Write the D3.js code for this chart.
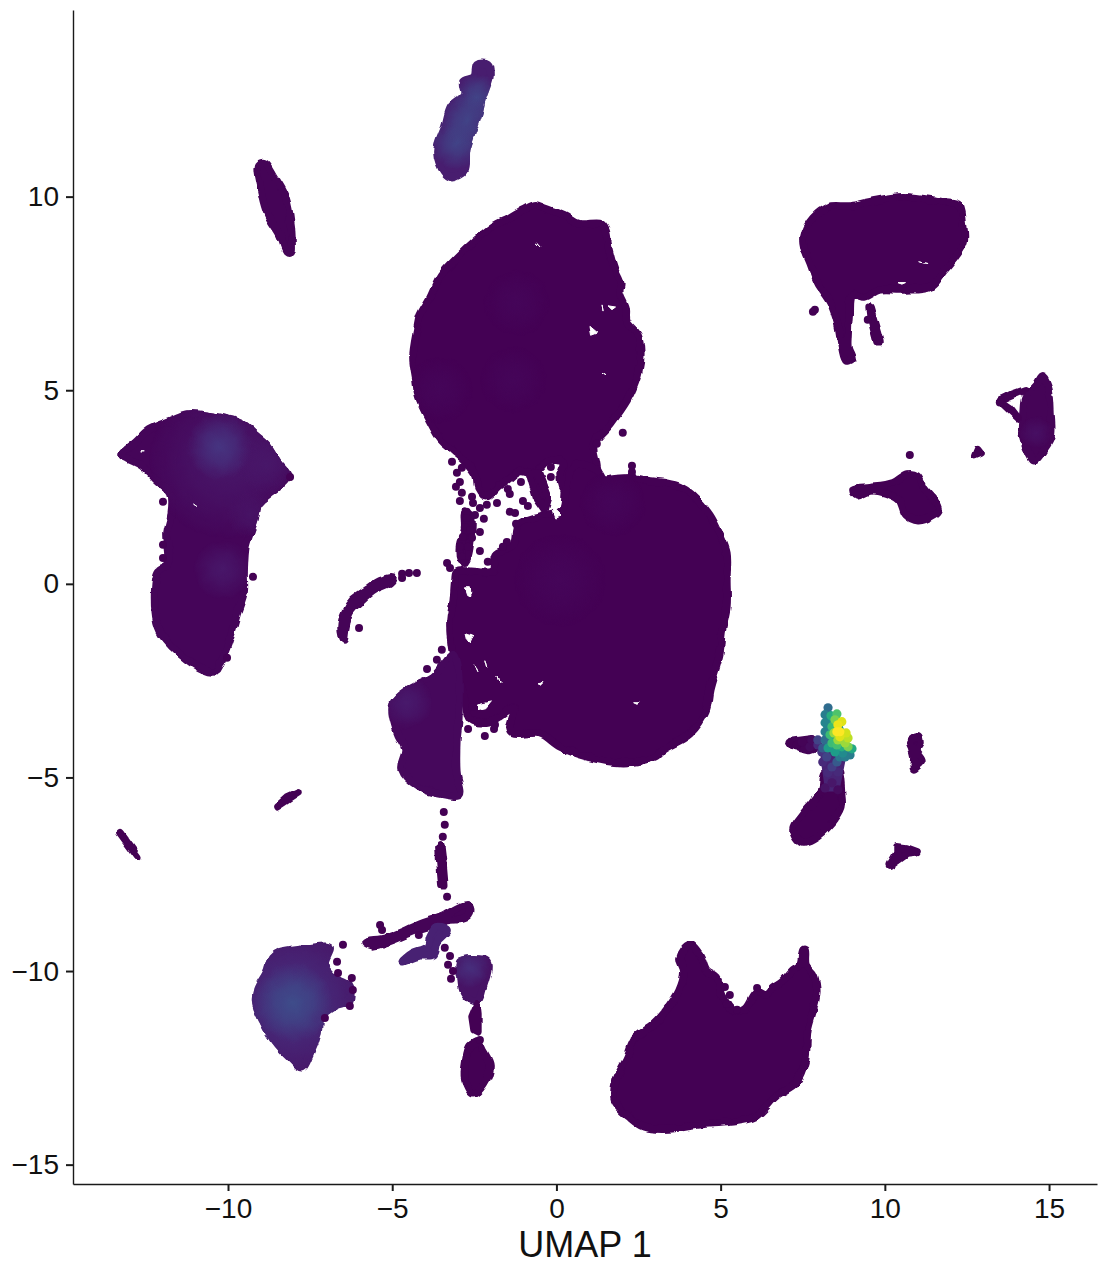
<!DOCTYPE html>
<html>
<head>
<meta charset="utf-8">
<script src="https://cdn.jsdelivr.net/npm/d3@7"></script>
<style>
body { margin: 0; background: #fff; }
text { font-family: "Liberation Sans", Arial, sans-serif; }
</style>
</head>
<body>
<div id="chart"></div>
<script>
const width = 1098;
const height = 1265;

// cluster outlines, in UMAP units
const upperBlob = [[-0.65,9.79],[-0.32,9.69],[0.26,9.51],[0.69,9.30],[1.36,9.30],[1.51,9.12],[1.60,8.63],[1.78,8.11],[1.96,7.75],[1.93,7.54],[2.12,7.13],[2.15,6.77],[2.48,6.43],[2.57,5.97],[2.51,5.50],[2.33,5.04],[2.15,4.73],[1.66,4.13],[1.14,3.59],[1.23,3.07],[1.23,2.69],[0.26,2.43],[0.11,2.82],[0.20,3.15],[-0.20,3.20],[-0.65,2.87],[-1.11,2.92],[-1.48,2.69],[-1.78,2.51],[-2.12,2.25],[-2.39,2.48],[-2.45,2.79],[-2.76,3.15],[-3.15,3.44],[-3.52,3.72],[-3.91,4.29],[-4.19,4.80],[-4.28,5.27],[-4.37,5.86],[-4.25,6.56],[-4.16,6.92],[-3.85,7.39],[-3.52,7.96],[-2.97,8.47],[-2.48,8.86],[-1.90,9.25],[-1.48,9.43],[-1.02,9.66]];
const lowerBlob = [[1.23,2.94],[1.45,2.69],[1.72,2.71],[2.30,2.74],[2.85,2.66],[3.30,2.61],[3.76,2.51],[4.13,2.30],[4.67,1.78],[4.98,1.27],[5.19,0.80],[5.19,0.10],[5.19,-0.59],[5.04,-1.24],[4.98,-1.78],[4.67,-2.74],[4.55,-3.28],[4.07,-3.87],[3.24,-4.29],[3.00,-4.47],[2.02,-4.62],[0.93,-4.47],[0.11,-4.21],[-0.50,-3.87],[-1.32,-3.87],[-1.42,-3.72],[-1.29,-3.20],[-2.02,-3.56],[-2.63,-3.51],[-2.79,-3.00],[-2.88,-2.74],[-3.18,-1.70],[-3.24,-0.93],[-3.15,-0.49],[-3.09,0.10],[-3.03,0.31],[-1.93,0.34],[-1.87,0.75],[-1.32,1.01],[-1.17,1.52],[-0.50,1.76],[0.17,1.91],[0.29,2.43],[0.56,3.07]];
const blobBridge = [[-0.81,2.82],[-0.55,2.85],[-0.25,2.20],[-0.35,1.90],[-0.60,2.20]];
const leftBand = [[-2.78,1.85],[-2.60,1.75],[-2.60,1.20],[-2.75,0.60],[-2.90,0.60],[-2.95,1.00],[-2.80,1.40]];
const shoulderBlob = [[-3.12,-1.83],[-3.79,-2.40],[-4.40,-2.66],[-4.98,-3.10],[-4.86,-3.82],[-4.61,-4.29],[-4.73,-4.78],[-4.19,-5.24],[-3.40,-5.45],[-2.94,-5.45],[-3.03,-4.88],[-3.03,-4.03],[-2.97,-3.44]];
const mushroom = [[-13.23,3.33],[-12.80,3.67],[-12.41,3.98],[-11.68,4.24],[-11.22,4.39],[-10.55,4.34],[-9.58,4.13],[-9.21,3.87],[-8.82,3.59],[-8.45,3.10],[-8.18,2.79],[-8.42,2.53],[-8.75,2.32],[-9.06,2.09],[-9.15,1.76],[-9.30,1.37],[-9.45,0.98],[-9.51,0.28],[-9.51,-0.21],[-9.70,-0.72],[-9.88,-1.24],[-10.09,-1.76],[-10.40,-2.27],[-10.79,-2.20],[-11.25,-1.96],[-11.68,-1.65],[-12.07,-1.24],[-12.22,-0.72],[-12.13,0.31],[-11.86,0.46],[-11.80,0.72],[-11.86,1.32],[-11.74,1.76],[-11.74,2.32],[-12.16,2.66],[-12.59,3.02],[-13.05,3.23]];
const arc = [[-4.98,0.15],[-5.37,0.08],[-5.77,-0.15],[-6.20,-0.41],[-6.44,-0.72],[-6.56,-1.11],[-6.47,-1.45],[-6.41,-1.14],[-6.29,-0.75],[-5.92,-0.41],[-5.53,-0.15],[-5.07,0.03]];
const topRight = [[7.51,8.96],[7.81,9.45],[8.30,9.74],[8.94,9.76],[9.55,9.87],[10.55,10.00],[11.77,9.87],[12.26,9.79],[12.38,9.35],[12.41,8.81],[12.16,8.45],[11.80,8.08],[11.40,7.67],[10.55,7.59],[9.85,7.59],[9.39,7.41],[9.00,7.46],[8.91,6.87],[8.88,6.43],[8.88,6.10],[9.00,5.81],[8.82,5.76],[8.69,6.10],[8.57,6.69],[8.33,7.28],[7.96,7.77],[7.72,8.29],[7.54,8.68]];
const topRightTail = [[9.55,7.15],[9.85,6.25],[9.76,6.25],[9.60,6.77]];
const farRight = [[14.78,5.35],[14.99,5.04],[15.06,4.37],[15.06,3.80],[14.84,3.46],[14.54,3.18],[14.39,3.36],[14.17,3.95],[14.21,4.44],[14.27,4.80],[14.60,5.14]];
const farRightUpper = [[13.50,4.73],[13.93,4.91],[14.27,5.01]];
const farRightLower = [[13.50,4.73],[13.81,4.55],[14.05,4.29]];
const tinyRight = [[12.83,3.49],[12.74,3.31],[12.93,3.38]];
const midRight = [[9.03,2.43],[9.15,2.27],[9.55,2.40],[10.00,2.35],[10.43,2.17],[10.64,1.78],[11.01,1.63],[11.50,1.78],[11.65,1.91],[11.50,2.17],[11.19,2.48],[10.98,2.79],[10.70,2.84],[10.25,2.61],[9.55,2.51],[9.18,2.48]];
const topSliver = [[-2.09,13.41],[-2.02,13.15],[-2.27,12.50],[-2.36,12.17],[-2.73,11.21],[-2.79,10.69],[-3.18,10.49],[-3.43,10.64],[-3.64,11.16],[-3.40,11.80],[-3.21,12.32],[-2.82,12.63],[-2.85,12.97],[-2.51,13.10],[-2.42,13.41]];
const leftSliver = [[-9.09,10.82],[-8.88,10.87],[-8.57,10.49],[-8.27,10.05],[-8.12,9.53],[-8.05,8.89],[-8.08,8.55],[-8.21,8.58],[-8.42,9.01],[-8.79,9.53],[-8.97,10.05]];
const farLeftStreak = [[-13.29,-6.43],[-13.02,-6.74],[-12.75,-7.05]];
const smallStreak = [[-8.51,-5.76],[-8.21,-5.53],[-7.87,-5.40]];
const lowerLeft = [[-8.11,-9.45],[-7.60,-9.40],[-6.90,-9.40],[-7.05,-9.84],[-6.75,-10.18],[-6.35,-10.36],[-6.29,-10.75],[-6.75,-10.90],[-7.20,-11.21],[-7.26,-11.60],[-7.51,-12.17],[-7.75,-12.50],[-8.15,-12.22],[-8.60,-11.80],[-8.94,-11.29],[-9.15,-10.85],[-9.12,-10.49],[-8.82,-10.02],[-8.66,-9.63],[-8.45,-9.51]];
const longStrand = [[-5.83,-9.25],[-5.16,-9.14],[-4.55,-8.94],[-4.07,-8.76],[-3.46,-8.58],[-2.94,-8.34],[-2.69,-8.29],[-2.61,-8.45],[-2.79,-8.63],[-3.33,-8.70],[-3.94,-8.86],[-4.46,-9.01],[-5.07,-9.22],[-5.59,-9.35]];
const verticalStrand = [[-3.52,-6.74],[-3.46,-7.18],[-3.40,-7.77],[-3.49,-7.77],[-3.55,-7.18],[-3.58,-6.83]];
const branch = [[-3.33,-8.94],[-3.64,-8.86],[-3.85,-9.12],[-3.94,-9.38],[-4.37,-9.53],[-4.70,-9.76],[-4.16,-9.61],[-3.76,-9.58],[-3.64,-9.25]];
const triangle = [[-2.94,-9.76],[-2.12,-9.74],[-2.09,-9.97],[-2.24,-10.44],[-2.39,-10.77],[-2.63,-10.75],[-2.85,-10.49],[-2.91,-10.13]];
const triangleTail = [[-2.42,-10.87],[-2.57,-11.18],[-2.51,-11.52],[-2.39,-11.57],[-2.39,-11.11]];
const bottomOval = [[-2.39,-11.83],[-2.63,-11.93],[-2.76,-12.30],[-2.79,-12.81],[-2.54,-13.17],[-2.21,-12.92],[-2.02,-12.45],[-2.24,-12.04]];
const bottomRight = [[4.07,-9.32],[4.37,-9.58],[4.58,-10.00],[4.89,-10.18],[5.04,-10.62],[5.44,-11.06],[5.77,-10.95],[6.11,-10.54],[6.35,-10.62],[6.59,-10.44],[6.87,-10.28],[7.20,-9.97],[7.41,-9.84],[7.51,-9.45],[7.57,-9.45],[7.60,-9.84],[7.84,-10.10],[7.93,-10.54],[7.84,-10.95],[7.66,-11.52],[7.57,-12.35],[7.29,-12.89],[6.74,-13.20],[6.04,-13.77],[5.28,-13.90],[4.37,-13.97],[3.46,-14.08],[2.66,-14.03],[2.21,-13.77],[1.78,-13.38],[1.81,-12.81],[2.15,-12.22],[2.39,-11.75],[2.94,-11.39],[3.30,-11.06],[3.73,-10.51],[3.88,-10.02],[3.76,-9.66]];
const stem = [[8.54,-4.75],[8.69,-5.50],[8.69,-5.76],[8.39,-6.17],[7.81,-6.61],[7.48,-6.69],[7.20,-6.35],[7.48,-5.97],[7.78,-5.66],[8.08,-5.32],[8.18,-4.88]];
const hotTail = [[7.11,-4.08],[7.80,-4.00],[8.00,-4.20],[7.70,-4.28],[7.20,-4.18]];
const hotNeck = [[8.10,-4.30],[8.75,-4.45],[8.55,-5.30],[8.25,-5.30],[8.15,-4.70]];
const hotBody = [[8.25,-3.30],[8.55,-3.45],[8.85,-4.20],[8.80,-4.35],[8.35,-4.35],[8.20,-4.10],[8.20,-3.50]];
const rightHook = [[10.76,-4.08],[11.01,-3.95],[11.07,-4.11],[10.98,-4.29],[11.16,-4.55],[11.04,-4.67],[10.88,-4.78],[10.88,-4.45],[10.82,-4.25]];
const rightSpeck = [[10.16,-7.26],[10.37,-6.95],[10.37,-6.79],[10.67,-6.82],[10.98,-6.92],[10.67,-6.95]];

// outline and expression level of each cluster's cells
const clusterOutlines = [upperBlob, lowerBlob, blobBridge, leftBand, shoulderBlob, mushroom, arc, topRight, topRightTail, farRight, farRightUpper, farRightLower, tinyRight, midRight, topSliver, leftSliver, farLeftStreak, smallStreak, lowerLeft, longStrand, verticalStrand, branch, triangle, triangleTail, bottomOval, bottomRight, stem, hotTail, rightHook, rightSpeck];
const clusterLevels = [0, 0, 0, 0, 0.02, 0.012, 0.01, 0, 0, 0.01, 0, 0, 0, 0, 0.08, 0.01, 0, 0, 0.06, 0.01, 0, 0.09, 0.05, 0, 0, 0, 0, 0.01, 0, 0];

// single cells outside the filled areas
const strayCells = [[-3.18,3.15],[-3.03,2.87],[-2.88,3.00],[-2.94,2.63],[-3.06,2.51],[-2.88,2.35],[-2.94,2.14],[-2.57,2.25],[-2.54,2.09],[-2.33,1.96],[-2.12,2.04],[-1.81,2.09],[-2.73,1.86],[-2.73,1.70],[-2.48,1.78],[-2.21,1.68],[-2.79,1.47],[-2.63,1.39],[-2.33,1.34],[-2.85,1.21],[-2.57,1.19],[-2.94,0.96],[-2.69,0.96],[-2.88,0.70],[-2.79,0.54],[-3.33,0.54],[-3.24,0.41],[-2.33,0.85],[-2.09,0.57],[-1.51,1.08],[-1.63,0.96],[-1.23,1.55],[-1.42,1.86],[-1.26,1.83],[-1.02,2.14],[-0.87,2.01],[-1.48,2.45],[-1.42,2.32],[-1.08,2.63],[-0.17,3.02],[-0.17,2.76],[2.30,3.05],[2.30,2.89],[1.23,3.62],[2.02,3.90],[-3.64,-1.96],[-3.94,-2.20],[-3.49,-1.70],[-2.69,-3.75],[-2.18,-3.93],[-1.90,-3.75],[-1.87,-3.64],[-2.57,-3.18],[-11.98,2.12],[-11.98,1.01],[-11.98,0.67],[-9.24,0.18],[-10.03,-1.91],[-8.11,2.76],[-4.25,0.28],[-4.49,0.28],[-4.70,0.26],[-4.70,0.15],[-6.01,-1.14],[9.48,6.82],[7.87,7.08],[7.81,7.03],[13.50,4.68],[10.76,3.33],[-6.50,-9.32],[-6.68,-9.76],[-6.65,-10.05],[-6.23,-10.18],[-6.20,-10.49],[-6.29,-10.90],[-7.05,-11.21],[-5.37,-8.81],[-5.31,-8.94],[-4.19,-9.07],[-3.43,-5.89],[-3.40,-6.22],[-3.46,-6.53],[-3.33,-8.08],[-3.40,-9.40],[-3.24,-9.61],[-3.30,-9.84],[-3.15,-10.00],[-3.21,-10.20],[-2.33,-11.78],[5.13,-10.41],[5.28,-10.62],[5.19,-10.85],[5.50,-11.00],[6.11,-10.44]];

// the hot group at about (8.5, -4): each cell with its value on the colour scale
const hotCells = [[7.11,-4.11,0],[7.32,-4.16,0],[7.48,-4.08,0.01],[7.72,-4.21,0.03],[7.78,-4.03,0.03],[7.96,-4.16,0.12],[8.08,-4.34,0.15],[8.23,-4.47,0.2],[8.11,-4.60,0.12],[8.54,-4.60,0.28],[8.39,-4.73,0.18],[8.27,-4.88,0.12],[8.57,-4.86,0.12],[8.39,-5.14,0.06],[8.18,-5.27,0.05],[8.57,-5.32,0.03],[8.27,-3.20,0.35],[8.18,-3.38,0.42],[8.18,-3.59,0.45],[8.18,-3.82,0.42],[8.18,-4.03,0.35],[7.96,-4.03,0.2],[8.11,-4.24,0.28],[8.36,-3.41,0.62],[8.54,-3.36,0.72],[8.39,-3.69,0.68],[8.33,-3.90,0.68],[8.39,-4.11,0.68],[8.54,-4.16,0.7],[8.27,-4.24,0.55],[8.48,-4.34,0.55],[8.72,-4.37,0.48],[8.94,-4.42,0.42],[8.79,-4.47,0.42],[8.63,-4.47,0.4],[9.00,-4.26,0.6],[8.88,-4.21,0.8],[8.69,-4.21,0.62],[8.88,-3.98,0.9],[8.79,-4.11,0.85],[8.82,-3.85,0.93],[8.69,-3.56,0.95],[8.57,-3.64,0.97],[8.63,-3.82,1],[8.54,-3.82,1],[8.63,-3.95,0.95],[8.48,-3.51,0.8],[8.45,-3.85,0.85],[8.57,-4.03,0.85]];
const hotBodies = [hotBody, hotNeck];
const hotBodyValues = [0.5, 0.1];

// soft patches of raised expression: centre, value, spread in UMAP 1 units
const patchCentres = [[-10.0,3.20],[-10.25,3.54],[-10.16,0.36],[-8.82,3.10],[-9.33,1.80],[-2.42,12.58],[-3.03,11.39],[-2.73,11.99],[-8.02,-10.82],[-8.02,-10.82],[-2.63,-9.92],[-4.55,-3.07],[-3.55,5.01],[-1.32,5.27],[-1.20,7.26],[1.72,2.09],[0.11,0.10],[14.6,3.9]];
const patchValues = [0.06,0.15,0.06,0.06,0.05,0.2,0.2,0.2,0.14,0.23,0.13,0.07,0.012,0.012,0.012,0.012,0.012,0.04];
const patchSpreads = [2.4,1.0,0.9,0.9,0.7,0.7,0.8,0.8,2.2,1.2,0.6,0.8,1.0,1.0,1.0,1.0,1.4,0.5];

// little holes left between the cells
const gaps = [[[-2.80,-0.10],[-2.62,-0.10],[-2.60,-0.32],[-2.73,-0.28]],[[-2.78,-1.27],[-2.55,-1.32],[-2.65,-1.52],[-2.74,-1.42]],[[-0.13,2.00],[0.17,1.75],[-0.05,1.70],[-0.12,1.86]],[[-2.40,-3.10],[-1.95,-3.02],[-2.12,-3.20],[-2.40,-3.25]],[[-0.56,-2.58],[-0.38,-2.55],[-0.47,-2.63]],[[2.32,-3.07],[2.52,-3.07],[2.42,-3.11]],[[-2.18,-1.96],[-2.12,-2.17]],[[-2.51,-2.09],[-2.42,-2.27]],[[-1.78,-2.38],[-1.72,-2.53]],[[1.02,6.65],[1.26,6.48],[1.07,6.42]],[[1.57,7.18],[1.80,7.15],[1.69,7.08]],[[1.36,7.23],[1.39,7.07]],[[1.39,5.48],[1.54,5.40]],[[-0.62,8.81],[-0.50,8.70]],[[10.42,7.78],[10.66,7.78],[10.55,7.74]],[[11.00,8.32],[11.30,8.27]],[[-12.66,3.41],[-12.55,3.41]],[[-11.02,2.06],[-10.92,2.00]]];

const xTicks = [-10, -5, 0, 5, 10, 15];
const yTicks = [-15, -10, -5, 0, 5, 10];

const svg = d3.select("#chart")
    .append("svg")
    .attr("width", width)
    .attr("height", height)
    .style("display", "block");

const x = d3.scaleLinear().domain([-14.72, 16.46]).range([73, 1097]);
const y = d3.scaleLinear().domain([-15.5, 14.82]).range([1184, 10]);
const color = d3.scaleSequential(d3.interpolateViridis).domain([0, 1]);

const cellRadius = 4;
const linearPath = d3.line().x(d => x(d[0])).y(d => y(d[1])).curve(d3.curveLinearClosed);
const roundPath = d3.line().x(d => x(d[0])).y(d => y(d[1])).curve(d3.curveCatmullRomClosed.alpha(0.5));
const outlinePath = outline => outline.length < 7 ? linearPath(outline) : roundPath(outline);

const defs = svg.append("defs");

// lumpy edge, the way many overlapping cells look
const lumps = defs.append("filter")
    .attr("id", "lumps")
    .attr("filterUnits", "userSpaceOnUse")
    .attr("x", 0).attr("y", 0).attr("width", width).attr("height", height)
    .attr("color-interpolation-filters", "sRGB");
lumps.append("feTurbulence")
    .attr("type", "fractalNoise")
    .attr("baseFrequency", 0.1)
    .attr("numOctaves", 1)
    .attr("seed", 4)
    .attr("result", "noise");
lumps.append("feDisplacementMap")
    .attr("in", "SourceGraphic")
    .attr("in2", "noise")
    .attr("scale", 6)
    .attr("xChannelSelector", "R")
    .attr("yChannelSelector", "G")
    .attr("result", "moved");
lumps.append("feGaussianBlur")
    .attr("in", "moved")
    .attr("stdDeviation", 0.6);

// patches stay inside the clusters
const mask = defs.append("mask")
    .attr("id", "clusterMask")
    .attr("maskUnits", "userSpaceOnUse")
    .attr("x", 0).attr("y", 0).attr("width", width).attr("height", height);
mask.selectAll("path")
    .data(clusterOutlines)
    .enter().append("path")
    .attr("d", outlinePath)
    .attr("fill", "#fff")
    .attr("stroke", "#fff")
    .attr("stroke-width", 7.5)
    .attr("stroke-linejoin", "round");

const bodies = svg.append("g").attr("filter", "url(#lumps)");

clusterOutlines.forEach((outline, i) => {
    const fill = color(clusterLevels[i]);
    bodies.append("path")
        .attr("d", outlinePath(outline))
        .attr("fill", fill)
        .attr("stroke", fill)
        .attr("stroke-width", 7.5)
        .attr("stroke-linejoin", "round");
});

const patches = bodies.append("g").attr("mask", "url(#clusterMask)");
patchCentres.forEach((c, i) => {
    const grad = defs.append("radialGradient").attr("id", "patch" + i);
    const c0 = color(patchValues[i]);
    grad.append("stop").attr("offset", "0%").attr("stop-color", c0).attr("stop-opacity", 1);
    grad.append("stop").attr("offset", "45%").attr("stop-color", c0).attr("stop-opacity", 0.65);
    grad.append("stop").attr("offset", "100%").attr("stop-color", c0).attr("stop-opacity", 0);
    patches.append("circle")
        .attr("cx", x(c[0]))
        .attr("cy", y(c[1]))
        .attr("r", x(patchSpreads[i]) - x(0))
        .attr("fill", `url(#patch${i})`);
});

bodies.append("g").selectAll("path")
    .data(gaps)
    .enter().append("path")
    .attr("d", linearPath)
    .attr("fill", "#fff")
    .attr("stroke", "#fff")
    .attr("stroke-width", 1)
    .attr("stroke-linejoin", "round");

svg.append("g").selectAll("circle")
    .data(strayCells)
    .enter().append("circle")
    .attr("cx", d => x(d[0]))
    .attr("cy", d => y(d[1]))
    .attr("r", cellRadius)
    .attr("fill", color(0));

hotBodies.forEach((outline, i) => {
    svg.append("path")
        .attr("d", linearPath(outline))
        .attr("fill", color(hotBodyValues[i]))
        .attr("stroke", color(hotBodyValues[i]))
        .attr("stroke-width", 5)
        .attr("stroke-linejoin", "round");
});

// low values first, the brightest cells end up on top
svg.append("g").selectAll("circle")
    .data(hotCells.slice().sort((a, b) => a[2] - b[2]))
    .enter().append("circle")
    .attr("cx", d => x(d[0]))
    .attr("cy", d => y(d[1]))
    .attr("r", cellRadius + 0.6)
    .attr("fill", d => color(d[2]));

const xAxis = svg.append("g")
    .attr("transform", `translate(0,${y.range()[0]})`)
    .call(d3.axisBottom(x).tickValues(xTicks).tickSizeInner(7).tickSizeOuter(0).tickPadding(7));
const yAxis = svg.append("g")
    .attr("transform", `translate(${x.range()[0]},0)`)
    .call(d3.axisLeft(y).tickValues(yTicks).tickSizeInner(7).tickSizeOuter(0).tickPadding(7));

[xAxis, yAxis].forEach(axis => {
    axis.selectAll("path").attr("stroke", "#1a1a1a").attr("stroke-width", 1.4);
    axis.selectAll("line").attr("stroke", "#1a1a1a").attr("stroke-width", 2);
    axis.selectAll("text")
        .attr("fill", "#111")
        .style("font-family", '"Liberation Sans", Arial, sans-serif')
        .style("font-size", "28px");
});

svg.append("text")
    .attr("x", 585)
    .attr("y", 1257)
    .attr("text-anchor", "middle")
    .attr("font-size", 36)
    .attr("fill", "#111")
    .text("UMAP 1");
</script>
</body>
</html>
